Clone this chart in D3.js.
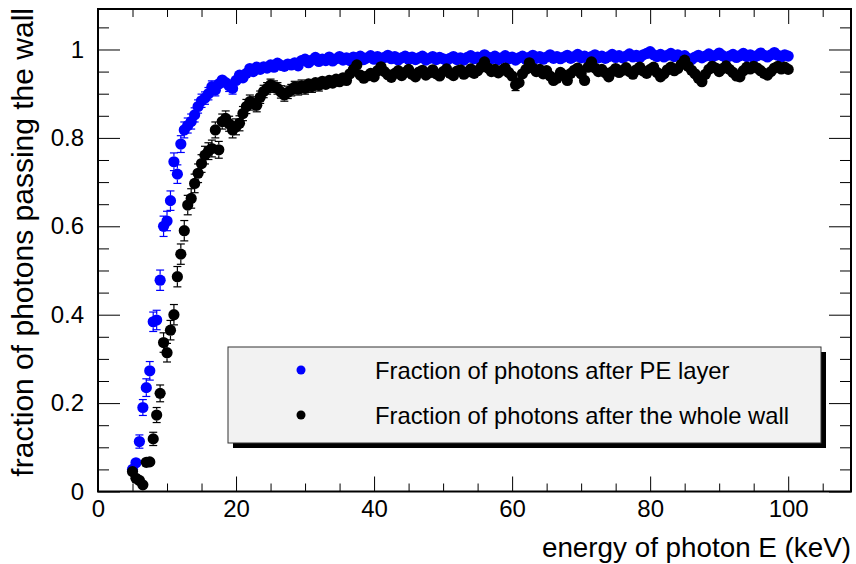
<!DOCTYPE html>
<html>
<head>
<meta charset="utf-8">
<script src="https://cdn.jsdelivr.net/npm/d3@7"></script>
<style>
  html, body { margin: 0; padding: 0; background: #ffffff; }
  svg { display: block; }
  text { font-family: "Liberation Sans", Arial, Helvetica, sans-serif; fill: #000; }
</style>
</head>
<body>
<svg id="chart" width="856" height="564"></svg>
<script>
// ---------------- data ----------------
const energy = [
  5.0, 5.5, 6.0, 6.5, 7.0, 7.5, 8.0, 8.5, 9.0, 9.5,
  10.0, 10.5, 11.0, 11.5, 12.0, 12.5, 13.0, 13.5, 14.0, 14.5,
  15.0, 15.5, 16.0, 16.5, 17.0, 17.5, 18.0, 18.5, 19.0, 19.5,
  20.0, 20.5, 21.0, 21.5, 22.0, 22.5, 23.0, 23.5, 24.0, 24.5,
  25.0, 25.5, 26.0, 26.5, 27.0, 27.5, 28.0, 28.5, 29.0, 29.5,
  30.0, 30.5, 31.0, 31.5, 32.0, 32.5, 33.0, 33.5, 34.0, 34.5,
  35.0, 35.5, 36.0, 36.5, 37.0, 37.5, 38.0, 38.5, 39.0, 39.5,
  40.0, 40.5, 41.0, 41.5, 42.0, 42.5, 43.0, 43.5, 44.0, 44.5,
  45.0, 45.5, 46.0, 46.5, 47.0, 47.5, 48.0, 48.5, 49.0, 49.5,
  50.0, 50.5, 51.0, 51.5, 52.0, 52.5, 53.0, 53.5, 54.0, 54.5,
  55.0, 55.5, 56.0, 56.5, 57.0, 57.5, 58.0, 58.5, 59.0, 59.5,
  60.0, 60.5, 61.0, 61.5, 62.0, 62.5, 63.0, 63.5, 64.0, 64.5,
  65.0, 65.5, 66.0, 66.5, 67.0, 67.5, 68.0, 68.5, 69.0, 69.5,
  70.0, 70.5, 71.0, 71.5, 72.0, 72.5, 73.0, 73.5, 74.0, 74.5,
  75.0, 75.5, 76.0, 76.5, 77.0, 77.5, 78.0, 78.5, 79.0, 79.5,
  80.0, 80.5, 81.0, 81.5, 82.0, 82.5, 83.0, 83.5, 84.0, 84.5,
  85.0, 85.5, 86.0, 86.5, 87.0, 87.5, 88.0, 88.5, 89.0, 89.5,
  90.0, 90.5, 91.0, 91.5, 92.0, 92.5, 93.0, 93.5, 94.0, 94.5,
  95.0, 95.5, 96.0, 96.5, 97.0, 97.5, 98.0, 98.5, 99.0, 99.5,
  100.0
];

// fraction of photons after PE layer (blue)
const fracPE = [
  0.050, 0.065, 0.113, 0.190, 0.235, 0.273, 0.384, 0.388, 0.478, 0.600,
  0.612, 0.658, 0.746, 0.718, 0.786, 0.818, 0.828, 0.837, 0.852, 0.871,
  0.884, 0.890, 0.900, 0.916, 0.908, 0.922, 0.931, 0.925, 0.918, 0.912,
  0.930, 0.942, 0.936, 0.946, 0.957, 0.950, 0.960, 0.955, 0.961, 0.958,
  0.965, 0.960, 0.969, 0.964, 0.962, 0.967, 0.965, 0.970, 0.963, 0.975,
  0.978, 0.970, 0.976, 0.982, 0.973, 0.978, 0.975, 0.983, 0.974, 0.979,
  0.984, 0.976, 0.981, 0.975, 0.983, 0.978, 0.985, 0.977, 0.981, 0.986,
  0.978, 0.984, 0.977, 0.982, 0.987, 0.979, 0.984, 0.976, 0.981, 0.985,
  0.978, 0.983, 0.977, 0.981, 0.985, 0.976, 0.980, 0.984, 0.977, 0.982,
  0.979, 0.975, 0.980, 0.984, 0.977, 0.981, 0.976, 0.982, 0.986, 0.979,
  0.983, 0.978, 0.988, 0.983, 0.979, 0.985, 0.977, 0.981, 0.986, 0.979,
  0.983, 0.976, 0.981, 0.985, 0.978, 0.982, 0.987, 0.980, 0.984, 0.978,
  0.983, 0.988, 0.980, 0.984, 0.979, 0.983, 0.987, 0.980, 0.984, 0.989,
  0.981, 0.985, 0.979, 0.984, 0.988, 0.981, 0.985, 0.980, 0.984, 0.989,
  0.982, 0.986, 0.981, 0.985, 0.990, 0.983, 0.987, 0.982, 0.988, 0.991,
  0.995, 0.988, 0.984, 0.989, 0.983, 0.987, 0.991, 0.984, 0.988, 0.982,
  0.986, 0.980, 0.977, 0.983, 0.987, 0.981, 0.985, 0.990, 0.983, 0.987,
  0.992, 0.986, 0.981, 0.985, 0.989, 0.982, 0.986, 0.991, 0.984, 0.988,
  0.982, 0.986, 0.992, 0.987, 0.983, 0.988, 0.993, 0.987, 0.983, 0.988,
  0.985
];
const errPE = [
  0.010, 0.011, 0.015, 0.018, 0.020, 0.021, 0.022, 0.022, 0.023, 0.023,
  0.022, 0.022, 0.020, 0.021, 0.019, 0.018, 0.017, 0.017, 0.016, 0.015,
  0.015, 0.014, 0.014, 0.013, 0.013, 0.012, 0.012, 0.012, 0.013, 0.013,
  0.012, 0.011, 0.011, 0.010, 0.009, 0.010, 0.009, 0.010, 0.009, 0.009,
  0.008, 0.009, 0.008, 0.009, 0.009, 0.008, 0.008, 0.008, 0.009, 0.007,
  0.007, 0.008, 0.007, 0.006, 0.007, 0.007, 0.007, 0.006, 0.007, 0.007,
  0.006, 0.007, 0.006, 0.007, 0.006, 0.006, 0.006, 0.007, 0.006, 0.006,
  0.006, 0.006, 0.006, 0.006, 0.006, 0.006, 0.006, 0.007, 0.006, 0.006,
  0.006, 0.006, 0.006, 0.006, 0.006, 0.007, 0.006, 0.006, 0.006, 0.006,
  0.006, 0.007, 0.006, 0.006, 0.006, 0.006, 0.007, 0.006, 0.006, 0.006,
  0.006, 0.006, 0.005, 0.006, 0.006, 0.006, 0.006, 0.006, 0.006, 0.006,
  0.006, 0.007, 0.006, 0.006, 0.006, 0.006, 0.005, 0.006, 0.006, 0.006,
  0.006, 0.005, 0.006, 0.006, 0.006, 0.006, 0.005, 0.006, 0.006, 0.005,
  0.006, 0.006, 0.006, 0.006, 0.005, 0.006, 0.006, 0.006, 0.006, 0.005,
  0.006, 0.005, 0.006, 0.006, 0.005, 0.006, 0.005, 0.006, 0.005, 0.004,
  0.004, 0.005, 0.006, 0.005, 0.006, 0.005, 0.005, 0.006, 0.005, 0.006,
  0.005, 0.006, 0.006, 0.006, 0.005, 0.006, 0.006, 0.005, 0.006, 0.005,
  0.004, 0.005, 0.006, 0.006, 0.005, 0.006, 0.005, 0.005, 0.006, 0.005,
  0.006, 0.005, 0.004, 0.005, 0.006, 0.005, 0.004, 0.005, 0.006, 0.005,
  0.005
];

// fraction of photons after the whole wall (black)
const fracWall = [
  0.045, 0.030, 0.025, 0.015, 0.066, 0.067, 0.119, 0.173, 0.222, 0.337,
  0.314, 0.365, 0.400, 0.486, 0.537, 0.590, 0.648, 0.663, 0.697, 0.720,
  0.742, 0.761, 0.770, 0.776, 0.818, 0.773, 0.837, 0.844, 0.832, 0.818,
  0.825, 0.833, 0.855, 0.871, 0.882, 0.878, 0.874, 0.892, 0.905, 0.912,
  0.920, 0.916, 0.912, 0.904, 0.897, 0.903, 0.908, 0.915, 0.910, 0.918,
  0.912, 0.922, 0.916, 0.925, 0.919, 0.928, 0.921, 0.930, 0.924, 0.933,
  0.927, 0.936, 0.930, 0.945, 0.955, 0.965, 0.942, 0.935, 0.940, 0.946,
  0.938, 0.952, 0.961, 0.950, 0.943, 0.937, 0.946, 0.952, 0.941, 0.948,
  0.955, 0.944, 0.938, 0.949, 0.953, 0.942, 0.947, 0.954, 0.945, 0.940,
  0.950, 0.956, 0.946, 0.941, 0.951, 0.954, 0.944, 0.949, 0.956, 0.946,
  0.952, 0.960, 0.972, 0.958, 0.950, 0.955, 0.947, 0.953, 0.958, 0.948,
  0.940, 0.920, 0.925, 0.945, 0.955, 0.970, 0.958, 0.950, 0.955, 0.945,
  0.952, 0.940, 0.930, 0.935, 0.948, 0.942, 0.930, 0.946, 0.953, 0.958,
  0.945, 0.930, 0.960, 0.972, 0.958, 0.950, 0.955, 0.947, 0.938, 0.950,
  0.957, 0.948, 0.953, 0.959, 0.950, 0.944, 0.954, 0.960, 0.951, 0.946,
  0.955, 0.960, 0.948, 0.938, 0.945, 0.954, 0.960, 0.952, 0.957, 0.966,
  0.976, 0.962, 0.953, 0.945, 0.935, 0.927, 0.944, 0.955, 0.962, 0.958,
  0.950, 0.957, 0.963, 0.955, 0.948, 0.940, 0.938, 0.952, 0.960, 0.956,
  0.962, 0.958, 0.952, 0.946, 0.942, 0.950, 0.958, 0.962, 0.956, 0.960,
  0.955
];
const errWall = [
  0.010, 0.008, 0.007, 0.006, 0.012, 0.012, 0.015, 0.017, 0.019, 0.022,
  0.021, 0.022, 0.023, 0.023, 0.023, 0.023, 0.022, 0.022, 0.021, 0.021,
  0.020, 0.020, 0.019, 0.019, 0.018, 0.019, 0.017, 0.017, 0.017, 0.018,
  0.018, 0.017, 0.016, 0.016, 0.015, 0.015, 0.015, 0.014, 0.014, 0.013,
  0.013, 0.013, 0.013, 0.014, 0.014, 0.014, 0.013, 0.013, 0.013, 0.013,
  0.013, 0.012, 0.013, 0.012, 0.013, 0.012, 0.012, 0.012, 0.012, 0.012,
  0.012, 0.011, 0.012, 0.011, 0.010, 0.008, 0.011, 0.011, 0.011, 0.010,
  0.011, 0.010, 0.009, 0.010, 0.011, 0.011, 0.010, 0.010, 0.011, 0.010,
  0.010, 0.011, 0.011, 0.010, 0.010, 0.011, 0.010, 0.010, 0.010, 0.011,
  0.010, 0.009, 0.010, 0.011, 0.010, 0.010, 0.010, 0.010, 0.009, 0.010,
  0.010, 0.009, 0.008, 0.009, 0.010, 0.009, 0.010, 0.010, 0.009, 0.010,
  0.011, 0.013, 0.012, 0.010, 0.009, 0.008, 0.009, 0.010, 0.009, 0.010,
  0.010, 0.011, 0.012, 0.011, 0.010, 0.011, 0.012, 0.010, 0.010, 0.009,
  0.010, 0.012, 0.009, 0.008, 0.009, 0.010, 0.009, 0.010, 0.011, 0.010,
  0.009, 0.010, 0.010, 0.009, 0.010, 0.011, 0.010, 0.009, 0.010, 0.010,
  0.009, 0.009, 0.010, 0.011, 0.010, 0.010, 0.009, 0.010, 0.009, 0.008,
  0.007, 0.009, 0.010, 0.010, 0.011, 0.012, 0.011, 0.009, 0.009, 0.009,
  0.010, 0.009, 0.009, 0.009, 0.010, 0.011, 0.011, 0.010, 0.009, 0.009,
  0.009, 0.009, 0.010, 0.010, 0.011, 0.010, 0.009, 0.009, 0.009, 0.009,
  0.010
];

const xTickValues = [0, 20, 40, 60, 80, 100];
const xTickLabels = ["0", "20", "40", "60", "80", "100"];
const yTickValues = [0, 0.2, 0.4, 0.6, 0.8, 1.0];
const yTickLabels = ["0", "0.2", "0.4", "0.6", "0.8", "1"];
const xMinorValues = [5, 10, 15, 25, 30, 35, 45, 50, 55, 65, 70, 75, 85, 90, 95, 105];
const yMinorValues = [0.05, 0.1, 0.15, 0.25, 0.3, 0.35, 0.45, 0.5, 0.55, 0.65, 0.7, 0.75, 0.85, 0.9, 0.95, 1.05];

const seriesNames = ["Fraction of photons after PE layer", "Fraction of photons after the whole wall"];
const seriesColors = ["#0000ff", "#000000"];
const xTitle = "energy of photon E (keV)";
const yTitle = "fraction of photons passing the wall";

// ---------------- layout ----------------
const frame = { left: 98, right: 851, top: 9, bottom: 491.5 };
const svg = d3.select("#chart");

const x = d3.scaleLinear().domain([0, 109.1]).range([frame.left, frame.right]);
const y = d3.scaleLinear().domain([0, 1.0916]).range([frame.bottom, frame.top]);

const fontFam = '"Liberation Sans", Arial, Helvetica, sans-serif';
const tickFont = 24;

function styleAxis(g) {
  g.select(".domain").remove();
  g.selectAll(".tick line").attr("stroke", "#000").attr("stroke-width", 1);
  g.selectAll(".tick text").attr("font-family", fontFam).attr("font-size", tickFont).attr("fill", "#000");
}

svg.append("g").attr("transform", `translate(0,${frame.bottom})`)
  .call(d3.axisBottom(x).tickValues(xTickValues).tickSize(-15).tickPadding(8)
        .tickFormat((d, i) => xTickLabels[i]))
  .call(styleAxis);
svg.append("g").attr("transform", `translate(0,${frame.bottom})`)
  .call(d3.axisBottom(x).tickValues(xMinorValues).tickSize(-8).tickFormat(""))
  .call(styleAxis);
svg.append("g").attr("transform", `translate(0,${frame.top})`)
  .call(d3.axisTop(x).tickValues(xTickValues).tickSize(-15).tickFormat(""))
  .call(styleAxis);
svg.append("g").attr("transform", `translate(0,${frame.top})`)
  .call(d3.axisTop(x).tickValues(xMinorValues).tickSize(-8).tickFormat(""))
  .call(styleAxis);

svg.append("g").attr("transform", `translate(${frame.left},0)`)
  .call(d3.axisLeft(y).tickValues(yTickValues).tickSize(-22).tickPadding(14)
        .tickFormat((d, i) => yTickLabels[i]))
  .call(styleAxis);
svg.append("g").attr("transform", `translate(${frame.left},0)`)
  .call(d3.axisLeft(y).tickValues(yMinorValues).tickSize(-11).tickFormat(""))
  .call(styleAxis);
svg.append("g").attr("transform", `translate(${frame.right},0)`)
  .call(d3.axisRight(y).tickValues(yTickValues).tickSize(-22).tickFormat(""))
  .call(styleAxis);
svg.append("g").attr("transform", `translate(${frame.right},0)`)
  .call(d3.axisRight(y).tickValues(yMinorValues).tickSize(-11).tickFormat(""))
  .call(styleAxis);

// data series
const series = [
  { name: seriesNames[0], color: seriesColors[0], vals: fracPE, errs: errPE },
  { name: seriesNames[1], color: seriesColors[1], vals: fracWall, errs: errWall }
];
const R = 5.6;
const cap = 4;

series.forEach(s => {
  const pts = energy.map((e, i) => ({ e, v: s.vals[i], err: s.errs[i] }));
  const g = svg.append("g");
  const eb = g.selectAll("g.eb").data(pts).enter().append("g").attr("class", "eb");
  eb.each(function (d) {
    const cx = x(d.e), cy = y(d.v);
    const yHi = y(d.v + d.err), yLo = y(d.v - d.err);
    const sel = d3.select(this);
    if (cy - yHi > R) {
      sel.append("line").attr("x1", cx).attr("x2", cx).attr("y1", cy - R).attr("y2", yHi)
        .attr("stroke", s.color).attr("stroke-width", 1.2);
      sel.append("line").attr("x1", cx - cap).attr("x2", cx + cap).attr("y1", yHi).attr("y2", yHi)
        .attr("stroke", s.color).attr("stroke-width", 1.2);
    }
    if (yLo - cy > R) {
      sel.append("line").attr("x1", cx).attr("x2", cx).attr("y1", cy + R).attr("y2", yLo)
        .attr("stroke", s.color).attr("stroke-width", 1.2);
      sel.append("line").attr("x1", cx - cap).attr("x2", cx + cap).attr("y1", yLo).attr("y2", yLo)
        .attr("stroke", s.color).attr("stroke-width", 1.2);
    }
  });
  g.selectAll("circle").data(pts).enter().append("circle")
    .attr("cx", d => x(d.e)).attr("cy", d => y(d.v)).attr("r", R)
    .attr("fill", s.color);
});

// frame
svg.append("rect")
  .attr("x", frame.left).attr("y", frame.top)
  .attr("width", frame.right - frame.left).attr("height", frame.bottom - frame.top)
  .attr("fill", "none").attr("stroke", "#000").attr("stroke-width", 2);

// legend
const leg = { x: 228, y: 347, w: 593, h: 96 };
svg.append("rect").attr("x", leg.x + 5).attr("y", leg.y + 5).attr("width", leg.w).attr("height", leg.h)
  .attr("fill", "#000");
svg.append("rect").attr("x", leg.x).attr("y", leg.y).attr("width", leg.w).attr("height", leg.h)
  .attr("fill", "#f2f2f2").attr("stroke", "#333").attr("stroke-width", 1);
series.forEach((s, i) => {
  const cy = leg.y + 23 + i * 45;
  svg.append("circle").attr("cx", leg.x + 73).attr("cy", cy).attr("r", 4.5).attr("fill", s.color);
  svg.append("text").attr("x", leg.x + 147).attr("y", cy).attr("dy", "0.36em")
    .attr("font-size", 23.8).attr("font-family", fontFam).text(s.name);
});

// axis titles
svg.append("text").attr("x", frame.right).attr("y", 557)
  .attr("text-anchor", "end").attr("font-size", 27.8).attr("font-family", fontFam).text(xTitle);
svg.append("text").attr("transform", `translate(33,${frame.top - 1}) rotate(-90)`)
  .attr("text-anchor", "end").attr("font-size", 30).attr("font-family", fontFam).text(yTitle);
</script>
</body>
</html>
